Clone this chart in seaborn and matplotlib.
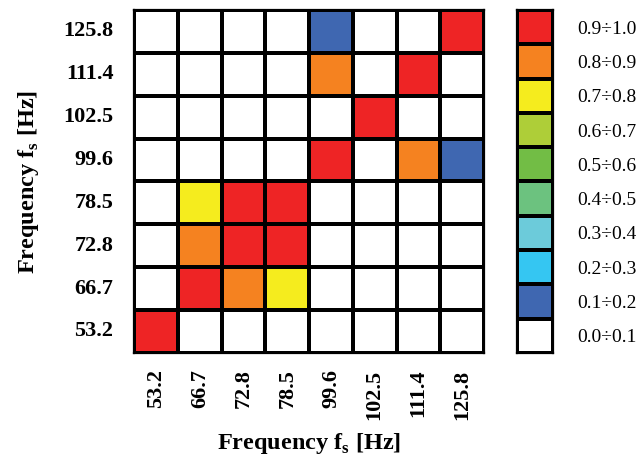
import numpy as np
import pandas as pd
import matplotlib
matplotlib.use("Agg")
import matplotlib.pyplot as plt
from matplotlib.colors import ListedColormap
import seaborn as sns

# frequencies (Hz)
freqs = ["53.2", "66.7", "72.8", "78.5", "99.6", "102.5", "111.4", "125.8"]
rows_top_down = freqs[::-1]

# cell values, rows from 125.8 (top) down to 53.2, columns 53.2 -> 125.8
vals = [
    [0.05, 0.05, 0.05, 0.05, 0.15, 0.05, 0.05, 0.95],  # 125.8
    [0.05, 0.05, 0.05, 0.05, 0.85, 0.05, 0.95, 0.05],  # 111.4
    [0.05, 0.05, 0.05, 0.05, 0.05, 0.95, 0.05, 0.05],  # 102.5
    [0.05, 0.05, 0.05, 0.05, 0.95, 0.05, 0.85, 0.15],  # 99.6
    [0.05, 0.75, 0.95, 0.95, 0.05, 0.05, 0.05, 0.05],  # 78.5
    [0.05, 0.85, 0.95, 0.95, 0.05, 0.05, 0.05, 0.05],  # 72.8
    [0.05, 0.95, 0.85, 0.75, 0.05, 0.05, 0.05, 0.05],  # 66.7
    [0.95, 0.05, 0.05, 0.05, 0.05, 0.05, 0.05, 0.05],  # 53.2
]

# legend classes (bottom -> top)
classes = ["0.0÷0.1", "0.1÷0.2", "0.2÷0.3", "0.3÷0.4", "0.4÷0.5",
           "0.5÷0.6", "0.6÷0.7", "0.7÷0.8", "0.8÷0.9", "0.9÷1.0"]
class_mid = [0.05, 0.15, 0.25, 0.35, 0.45, 0.55, 0.65, 0.75, 0.85, 0.95]
colors = ["#ffffff", "#3f67b1", "#35c6f2", "#6ccbda", "#6cc27f",
          "#72bd45", "#aece38", "#f5ec1e", "#f58220", "#ee2425"]

cmap = ListedColormap(colors)

plt.rcParams["font.family"] = ["Liberation Serif", "DejaVu Serif"]
plt.rcParams["mathtext.fontset"] = "custom"
plt.rcParams["mathtext.rm"] = "Liberation Serif:bold"
plt.rcParams["mathtext.bf"] = "Liberation Serif:bold"

df = pd.DataFrame(vals, index=rows_top_down, columns=freqs)

fig = plt.figure(figsize=(6.42, 4.57), dpi=100)
ax = fig.add_axes([0.209, 0.228, 0.545, 0.750])
sns.heatmap(df, ax=ax, cmap=cmap, vmin=0, vmax=1, cbar=False,
            linewidths=1.6, linecolor="black", square=False)
for lab in ax.get_xticklabels():
    lab.set_rotation(90)
    lab.set_fontweight("bold")
    lab.set_fontsize(16)
for lab in ax.get_yticklabels():
    lab.set_rotation(0)
    lab.set_fontweight("bold")
    lab.set_fontsize(16)
ax.tick_params(axis="y", length=0, pad=15)
ax.tick_params(axis="x", length=0, pad=12)
for s in ax.spines.values():
    s.set_visible(True)
    s.set_linewidth(1.6)
ax.set_xlabel(r"Frequency f$_{\mathbf{s}}$ [Hz]", fontsize=17.5, fontweight="bold", labelpad=8)
ax.set_ylabel(r"Frequency f$_{\mathbf{s}}$ [Hz]", fontsize=17.5, fontweight="bold", labelpad=16)

# discrete legend
leg = pd.DataFrame({"v": class_mid[::-1]}, index=classes[::-1])
lax = fig.add_axes([0.806, 0.228, 0.056, 0.750])
sns.heatmap(leg, ax=lax, cmap=cmap, vmin=0, vmax=1, cbar=False,
            linewidths=1.6, linecolor="black", xticklabels=False)
lax.yaxis.tick_right()
lax.tick_params(length=0, pad=17)
for lab in lax.get_yticklabels():
    lab.set_rotation(0)
    lab.set_fontsize(14)
lax.set_ylabel("")
for s in lax.spines.values():
    s.set_visible(True)
    s.set_linewidth(1.6)

fig.savefig("out.png", dpi=100)
